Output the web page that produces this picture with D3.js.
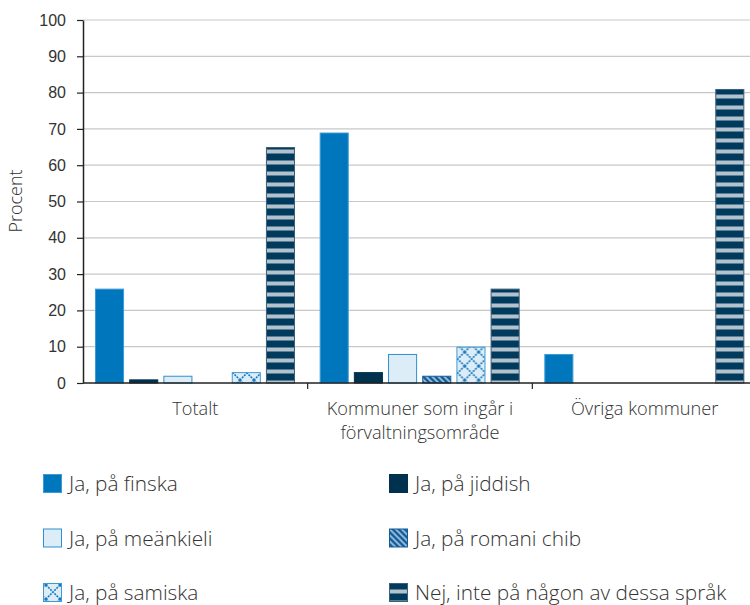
<!DOCTYPE html>
<html>
<head>
<meta charset="utf-8">
<script src="https://cdn.jsdelivr.net/npm/d3@7"></script>
<style>
  body { margin: 0; background: #fff; }
  svg { font-family: "Open Sans", sans-serif; font-weight: 300; }
  .tick text { fill: #333; font-size: 16px; }
</style>
</head>
<body>
<svg id="chart" width="750" height="605"></svg>
<script>
// Data
const categories = ['Totalt', 'Kommuner som ingår i förvaltningsområde', 'Övriga kommuner'];
const categoryLines = [['Totalt'], ['Kommuner som ingår i', 'förvaltningsområde'], ['Övriga kommuner']];
const series = ['Ja, på finska', 'Ja, på jiddish', 'Ja, på meänkieli', 'Ja, på romani chib', 'Ja, på samiska', 'Nej, inte på någon av dessa språk'];
const finska = [26, 69, 8];
const jiddish = [1, 3, 0];
const meankieli = [2, 8, 0];
const romani = [0, 2, 0];
const samiska = [3, 10, 0];
const nej = [65, 26, 81];
const values = [finska, jiddish, meankieli, romani, samiska, nej];
const yTicks = [0, 10, 20, 30, 40, 50, 60, 70, 80, 90, 100];

const svg = d3.select('#chart');
const margins = { left: 83, top: 20, right: -7, bottom: 222 };
const width = 750, height = 605;

// Patterns
const defs = svg.append('defs');

const romaniPat = defs.append('pattern')
    .attr('id', 'pat-romani').attr('patternUnits', 'userSpaceOnUse')
    .attr('width', 6).attr('height', 6);
romaniPat.append('rect').attr('width', 6).attr('height', 6).attr('fill', '#115c99');
romaniPat.append('path').attr('d', 'M-1,-1 L7,7 M-4,2 L4,10 M2,-4 L10,4')
    .attr('stroke', '#a9c8e0').attr('stroke-width', 1.6);

const samiPat = defs.append('pattern')
    .attr('id', 'pat-samiska').attr('patternUnits', 'userSpaceOnUse')
    .attr('width', 14).attr('height', 14).attr('x', 3).attr('y', 2);
samiPat.append('rect').attr('width', 14).attr('height', 14).attr('fill', '#dcedf7');
samiPat.append('path').attr('d', 'M0,0 L14,14 M14,0 L0,14')
    .attr('stroke', '#1678c0').attr('stroke-width', 1.6).attr('stroke-dasharray', '2 1');

const nejPat = defs.append('pattern')
    .attr('id', 'pat-nej').attr('patternUnits', 'userSpaceOnUse')
    .attr('width', 10).attr('height', 11);
nejPat.append('rect').attr('width', 10).attr('height', 11).attr('fill', '#003a5d');
nejPat.append('rect').attr('y', 6.5).attr('width', 10).attr('height', 4).attr('fill', '#b3c2cd');

const fills = ['#0077bd', '#00324f', '#dcedf7', 'url(#pat-romani)', 'url(#pat-samiska)', 'url(#pat-nej)'];
const strokes = ['#3e9ad6', '#00324f', '#2f8fd0', '#115c99', '#3e9ad6', '#3d5f78'];

// Scales
const x0 = d3.scaleBand().domain(categories).range([margins.left, width - margins.right]);
const x1 = d3.scaleBand().domain(series).range([12, 212]).paddingInner(0.15);
const y = d3.scaleLinear().domain([0, 100]).range([height - margins.bottom, margins.top]);

// Grid
svg.append('g').selectAll('line').data(yTicks.filter(d => d > 0)).join('line')
    .attr('x1', margins.left).attr('x2', width)
    .attr('y1', d => y(d)).attr('y2', d => y(d))
    .attr('stroke', '#c8c8c8').attr('stroke-width', 1.2);

// Bars
const groups = svg.append('g').selectAll('g').data(categories).join('g')
    .attr('transform', d => `translate(${x0(d)},0)`);
groups.selectAll('rect')
    .data((c, ci) => series.map((s, si) => ({ s, si, v: values[si][ci] })).filter(d => d.v > 0))
    .join('rect')
    .attr('x', d => x1(d.s) + 0.5)
    .attr('y', d => y(d.v) + 0.5)
    .attr('width', x1.bandwidth() - 1)
    .attr('height', d => y(0) - y(d.v) - 0.5)
    .attr('fill', d => fills[d.si])
    .attr('stroke', d => strokes[d.si])
    .attr('stroke-width', 1);

// Y axis
const yAxis = svg.append('g')
    .attr('transform', `translate(${margins.left},0)`)
    .call(d3.axisLeft(y).tickValues(yTicks).tickSize(6).tickSizeOuter(0).tickPadding(11));
yAxis.select('.domain').attr('stroke', '#222').attr('stroke-width', 1.5);
yAxis.selectAll('.tick line').attr('stroke', '#222').attr('stroke-width', 1.2);

svg.append('text')
    .attr('transform', 'translate(22,201) rotate(-90)')
    .attr('text-anchor', 'middle')
    .attr('fill', '#333').style('font-size', '18px')
    .text('Procent');

// X axis
const xAxis = svg.append('g')
    .attr('transform', `translate(0,${y(0)})`);
xAxis.append('line')
    .attr('x1', margins.left).attr('x2', width)
    .attr('stroke', '#222').attr('stroke-width', 1.5);
xAxis.selectAll('line.sep').data(categories.slice(1)).join('line')
    .attr('class', 'sep')
    .attr('x1', d => x0(d)).attr('x2', d => x0(d))
    .attr('y1', 0).attr('y2', 6)
    .attr('stroke', '#222').attr('stroke-width', 1.2);
xAxis.selectAll('text.cat').data(categories).join('text')
    .attr('class', 'cat')
    .attr('x', d => x0(d) + x0.bandwidth() / 2)
    .attr('y', 32)
    .attr('text-anchor', 'middle')
    .attr('fill', '#333').style('font-size', '18.2px')
    .each(function (d, i) {
        d3.select(this).selectAll('tspan').data(categoryLines[i]).join('tspan')
            .attr('x', x0(d) + x0.bandwidth() / 2)
            .attr('dy', (t, j) => j === 0 ? 0 : 24)
            .text(t => t);
    });

// Legend
const legendPos = series.map((s, i) => ({ s, i, x: i % 2 === 0 ? 43 : 389, y: 474 + Math.floor(i / 2) * 54.5 }));
const legend = svg.append('g').selectAll('g').data(legendPos).join('g')
    .attr('transform', d => `translate(${d.x},${d.y})`);
legend.append('rect')
    .attr('x', 0.5).attr('y', 0.5).attr('width', 18).attr('height', 18)
    .attr('fill', d => fills[d.i]).attr('stroke', d => strokes[d.i]);
legend.append('text')
    .attr('x', 26).attr('y', 17)
    .attr('fill', '#333').style('font-size', '20.8px')
    .text(d => d.s);
</script>
</body>
</html>
